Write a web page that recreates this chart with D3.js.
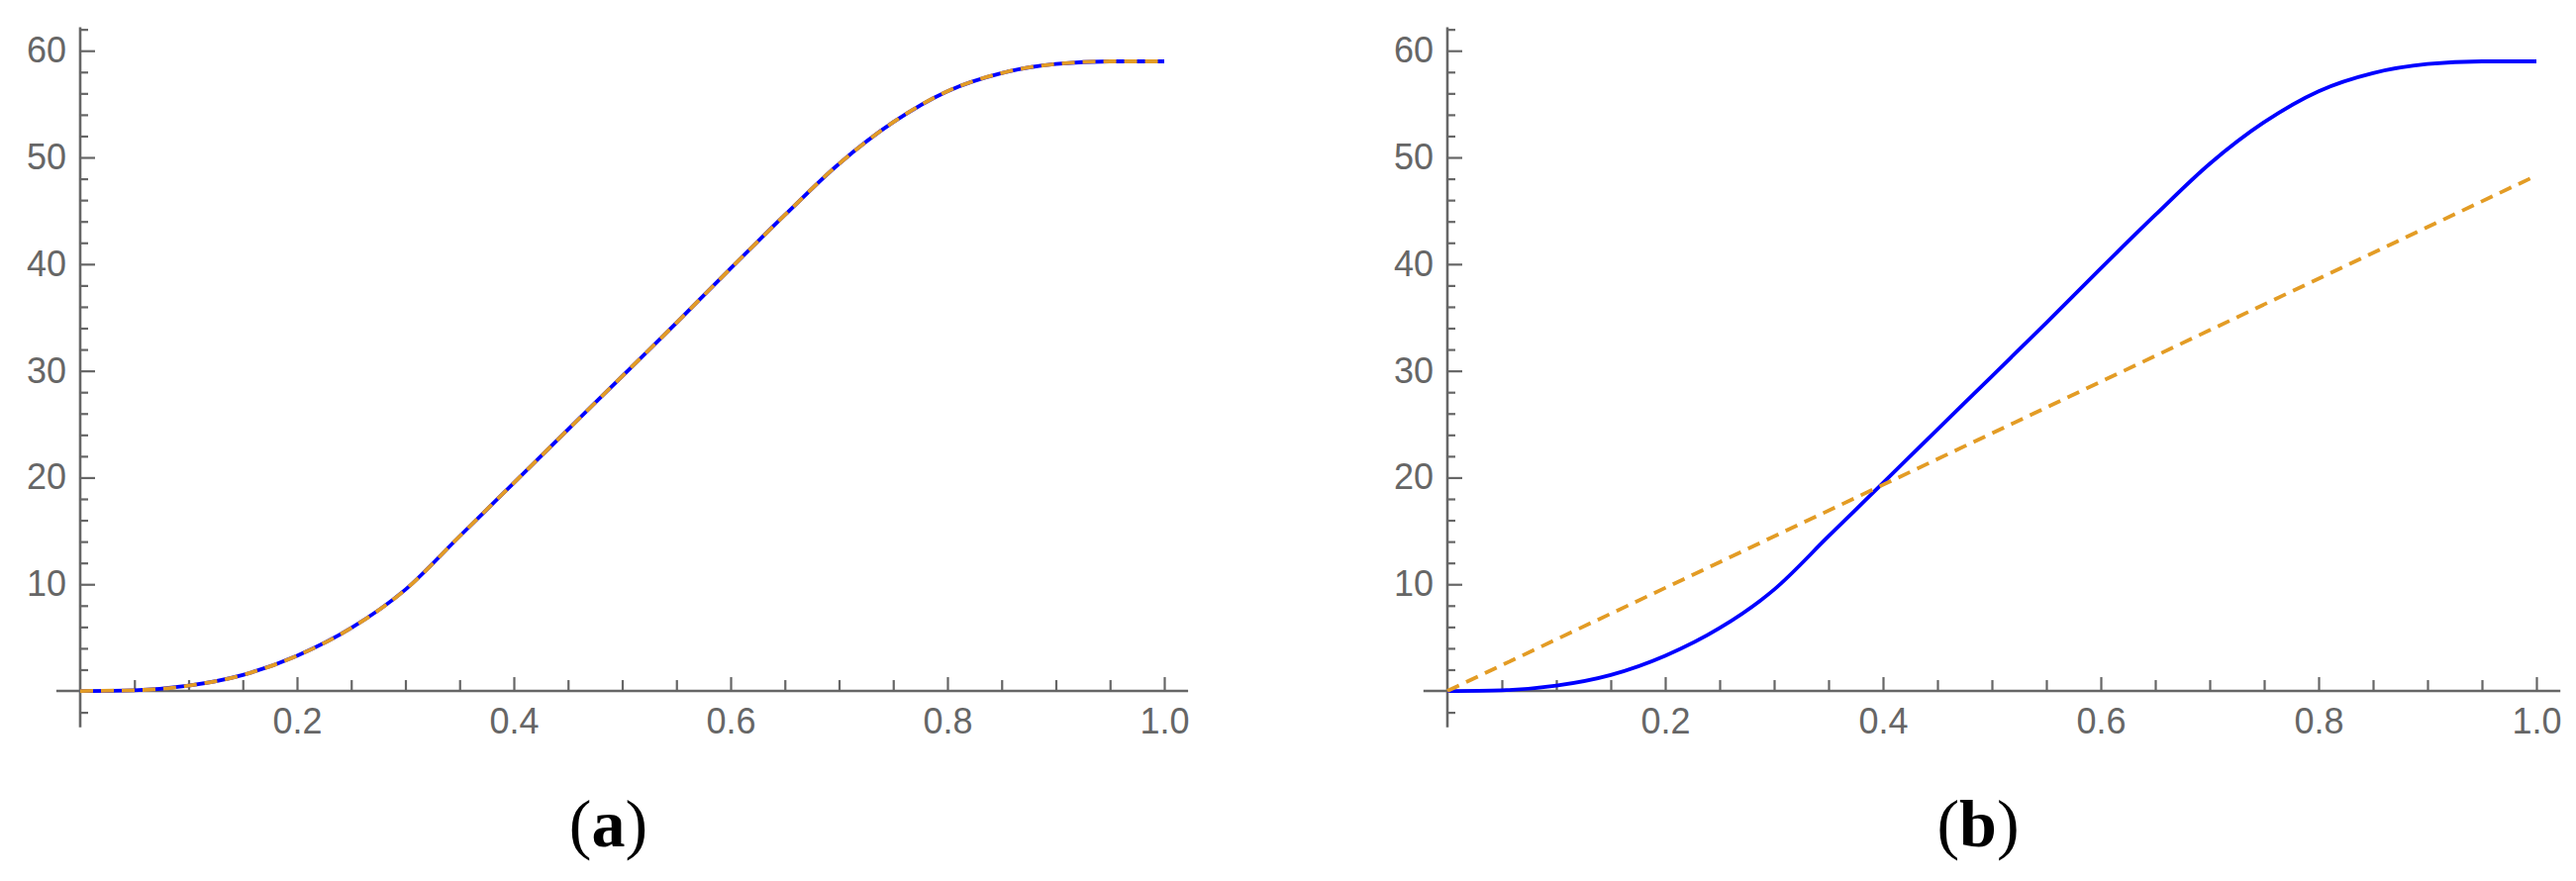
<!DOCTYPE html>
<html>
<head>
    <meta charset="utf-8">
    <title>Curves (a) and (b)</title>
    <script src="https://d3js.org/d3.v7.min.js"></script>
    <style>
        body { margin: 0; background: #fff; }
        .tick text { font-family: 'Liberation Sans', Arial, sans-serif; font-size: 36px; fill: #666; }
        .tick line { stroke: #666; stroke-width: 2.2px; }
        .axisline { stroke: #666; stroke-width: 2.6px; }
        .panel-label { font-family: 'Liberation Serif', 'Times New Roman', serif; font-size: 68px; fill: #000; }
    </style>
</head>
<body>
    <svg id="fig" width="2602" height="890"></svg>

    <script>
        // values
        const tValues = [0, 0.05, 0.1, 0.15, 0.2, 0.25, 0.3, 0.35, 0.4, 0.45, 0.5,
                         0.55, 0.6, 0.65, 0.7, 0.75, 0.8, 0.85, 0.9, 0.95, 1.0];
        const exactVals = [0, 0.07, 0.5, 1.5, 3.3, 5.9, 9.5, 14.5, 19.5, 24.5, 29.5,
                           34.5, 39.6, 44.6, 49.4, 53.3, 56.2, 57.9, 58.75, 59.0, 59.0];
        // (a): approximation lies right on the exact curve
        const approxValsA = [0, 0.07, 0.5, 1.5, 3.3, 5.9, 9.5, 14.5, 19.5, 24.5, 29.5,
                             34.5, 39.6, 44.6, 49.4, 53.3, 56.2, 57.9, 58.75, 59.0, 59.0];
        // (b): straight line
        const approxTB = [0, 1.0];
        const approxValsB = [0, 48.3];

        const xMajor = [0.2, 0.4, 0.6, 0.8, 1.0];
        const xMinor = [0.05, 0.1, 0.15, 0.25, 0.3, 0.35, 0.45, 0.5, 0.55, 0.65, 0.7, 0.75, 0.85, 0.9, 0.95];
        const yMajor = [10, 20, 30, 40, 50, 60];
        const yMinor = [-2, 2, 4, 6, 8, 12, 14, 16, 18, 22, 24, 26, 28, 32, 34, 36, 38,
                        42, 44, 46, 48, 52, 54, 56, 58, 62];

        const blue = "#0000ff";
        const orange = "#e39c25";

        let svg = d3.select("#fig");

        let yScale = d3.scaleLinear()
                        .domain([-3.4, 62.2])
                        .range([734.7, 27.5]);

        function drawPanel(x0, x1, label, series){
            let xScale = d3.scaleLinear()
                            .domain([0, 1])
                            .range([x0, x1]);
            let g = svg.append("g");

            // axis lines, a bit past the data range like the original
            g.append("line").attr("class", "axisline")
                .attr("x1", xScale(-0.022)).attr("x2", xScale(1.022))
                .attr("y1", yScale(0)).attr("y2", yScale(0));
            g.append("line").attr("class", "axisline")
                .attr("x1", xScale(0)).attr("x2", xScale(0))
                .attr("y1", yScale(-3.4)).attr("y2", yScale(62.2));

            // x ticks (pointing up)
            g.append("g")
                .attr("transform", `translate(0,${yScale(0)})`)
                .call(d3.axisBottom(xScale).tickValues(xMinor).tickSize(-11).tickFormat(""))
                .call(a => a.select(".domain").remove());
            g.append("g")
                .attr("transform", `translate(0,${yScale(0)})`)
                .call(d3.axisBottom(xScale).tickValues(xMajor).tickSize(-14).tickPadding(17)
                        .tickFormat(d3.format(".1f")))
                .call(a => a.select(".domain").remove());

            // y ticks (pointing right)
            g.append("g")
                .attr("transform", `translate(${xScale(0)},0)`)
                .call(d3.axisLeft(yScale).tickValues(yMinor).tickSize(-8).tickFormat(""))
                .call(a => a.select(".domain").remove());
            g.append("g")
                .attr("transform", `translate(${xScale(0)},0)`)
                .call(d3.axisLeft(yScale).tickValues(yMajor).tickSize(-15).tickPadding(14))
                .call(a => a.select(".domain").remove());

            g.selectAll(".tick text").attr("font-family", null).attr("font-size", null);

            let line = d3.line()
                            .x(d => xScale(d[0]))
                            .y(d => yScale(d[1]))
                            .curve(d3.curveMonotoneX);

            series.forEach(s => {
                g.append("path")
                    .datum(d3.zip(s.t, s.v))
                    .attr("d", line)
                    .attr("fill", "none")
                    .attr("stroke", s.color)
                    .attr("stroke-width", s.width)
                    .attr("stroke-dasharray", s.dash || null);
            });

            // panel label "(a)" / "(b)" with bold letter
            let txt = g.append("text").attr("class", "panel-label")
                .attr("x", (x0 + x1) / 2 - 14)
                .attr("y", 855)
                .attr("text-anchor", "middle");
            txt.append("tspan").text("(");
            txt.append("tspan").attr("font-weight", "bold").text(label);
            txt.append("tspan").text(")");
        }

        drawPanel(81, 1176, "a", [
            {t: tValues, v: exactVals, color: blue, width: 3.8},
            {t: tValues, v: approxValsA, color: orange, width: 3.8, dash: "13,8"}
        ]);

        drawPanel(1462, 2562, "b", [
            {t: tValues, v: exactVals, color: blue, width: 3.8},
            {t: approxTB, v: approxValsB, color: orange, width: 3.8, dash: "13,8"}
        ]);
    </script>
</body>
</html>
